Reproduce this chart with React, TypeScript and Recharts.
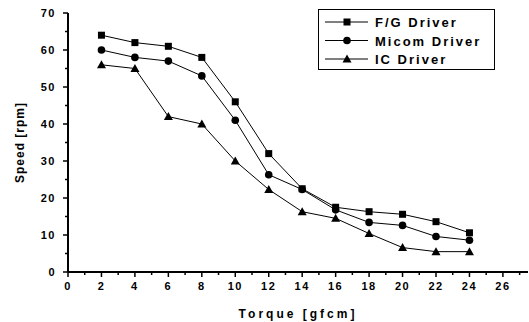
import React from 'react';
import { LineChart, Line, XAxis, YAxis } from 'recharts';

const torque = [2, 4, 6, 8, 10, 12, 14, 16, 18, 20, 22, 24];
const fgDriver = [64, 62, 61, 58, 46, 32, 22.5, 17.5, 16.3, 15.6, 13.6, 10.6];
const micomDriver = [60, 58, 57, 53, 41, 26.3, 22.3, 16.8, 13.4, 12.6, 9.6, 8.6];
const icDriver = [56, 55, 42, 40, 30, 22.3, 16.3, 14.5, 10.4, 6.6, 5.5, 5.5];

const xTicks = Array.from({ length: 28 }, (_, i) => i);
const yTicks = [0, 5, 10, 15, 20, 25, 30, 35, 40, 45, 50, 55, 60, 65, 70];

const data = torque.map((t, i) => ({
  t,
  fg: fgDriver[i],
  micom: micomDriver[i],
  ic: icDriver[i],
}));

const font = 'Liberation Sans, Arial, sans-serif';

const XTick = (props: any) => {
  const { x, y, payload } = props;
  const major = payload.value % 2 === 0;
  return (
    <g>
      <line x1={x} y1={y} x2={x} y2={y + (major ? 5 : 3)} stroke="#000" strokeWidth={1.5} />
      {major && (
        <text x={x} y={y + 18} textAnchor="middle" fontFamily={font} fontWeight="bold" fontSize={11} letterSpacing={1.5} fill="#000">
          {payload.value}
        </text>
      )}
    </g>
  );
};

const YTick = (props: any) => {
  const { x, y, payload } = props;
  const major = payload.value % 10 === 0;
  return (
    <g>
      <line x1={x} y1={y} x2={x - (major ? 5 : 3)} y2={y} stroke="#000" strokeWidth={1.5} />
      {major && (
        <text x={x - 12} y={y + 4} textAnchor="end" fontFamily={font} fontWeight="bold" fontSize={11} letterSpacing={1.5} fill="#000">
          {payload.value}
        </text>
      )}
    </g>
  );
};

const Marker = ({ shape, cx, cy }: { shape: string; cx: number; cy: number }) => {
  if (shape === 'square') return <rect x={cx - 3.5} y={cy - 3.5} width={7} height={7} fill="#000" />;
  if (shape === 'circle') return <circle cx={cx} cy={cy} r={3.8} fill="#000" />;
  return <polygon points={`${cx},${cy - 4.5} ${cx - 4.5},${cy + 3.5} ${cx + 4.5},${cy + 3.5}`} fill="#000" />;
};

const makeDot = (shape: string) => (props: any) => (
  <Marker key={`${shape}-${props.index}`} shape={shape} cx={props.cx} cy={props.cy} />
);

const legendItems = [
  { name: 'F/G Driver', shape: 'square' },
  { name: 'Micom Driver', shape: 'circle' },
  { name: 'IC Driver', shape: 'triangle' },
];

const LegendBox = () => (
  <svg width={178} height={62} style={{ display: 'block' }}>
    <rect x={0.5} y={0.5} width={176} height={60} fill="#fff" stroke="#000" strokeWidth={1} />
    {legendItems.map((it, i) => {
      const cy = 13 + i * 18.5;
      return (
        <g key={it.name}>
          <line x1={7} y1={cy} x2={50} y2={cy} stroke="#000" strokeWidth={1} />
          <Marker shape={it.shape} cx={29} cy={cy} />
          <text x={57} y={cy + 5} fontFamily={font} fontWeight="bold" fontSize={13} letterSpacing={2} fill="#000">
            {it.name}
          </text>
        </g>
      );
    })}
  </svg>
);

export default function App() {
  return (
    <div style={{ position: 'absolute', left: 0, top: 0, width: 529, height: 322, background: '#fff' }}>
      <LineChart width={529} height={322} data={data} margin={{ top: 13, right: 1, left: 0, bottom: 0 }}>
        <XAxis
          dataKey="t"
          type="number"
          domain={[0, 27.5]}
          ticks={xTicks}
          interval={0}
          height={50}
          tickSize={0}
          tickMargin={0}
          tickLine={false}
          tick={<XTick />}
          axisLine={{ stroke: '#000', strokeWidth: 2 }}
          label={{
            value: 'Torque [gfcm]',
            position: 'insideBottom',
            offset: 4,
            style: { fontFamily: font, fontWeight: 'bold', fontSize: 12, letterSpacing: 3, fill: '#000' },
          }}
        />
        <YAxis
          type="number"
          domain={[0, 70]}
          ticks={yTicks}
          interval={0}
          width={68}
          tickSize={0}
          tickMargin={0}
          tickLine={false}
          tick={<YTick />}
          axisLine={{ stroke: '#000', strokeWidth: 2 }}
          label={{
            value: 'Speed [rpm]',
            angle: -90,
            position: 'insideLeft',
            offset: 20,
            style: { textAnchor: 'middle', fontFamily: font, fontWeight: 'bold', fontSize: 12, letterSpacing: 1, fill: '#000' },
          }}
        />
        <Line dataKey="fg" stroke="#000" strokeWidth={1} dot={makeDot('square')} isAnimationActive={false} />
        <Line dataKey="micom" stroke="#000" strokeWidth={1} dot={makeDot('circle')} isAnimationActive={false} />
        <Line dataKey="ic" stroke="#000" strokeWidth={1} dot={makeDot('triangle')} isAnimationActive={false} />
      </LineChart>
      <div style={{ position: 'absolute', left: 318, top: 9 }}>
        <LegendBox />
      </div>
    </div>
  );
}
